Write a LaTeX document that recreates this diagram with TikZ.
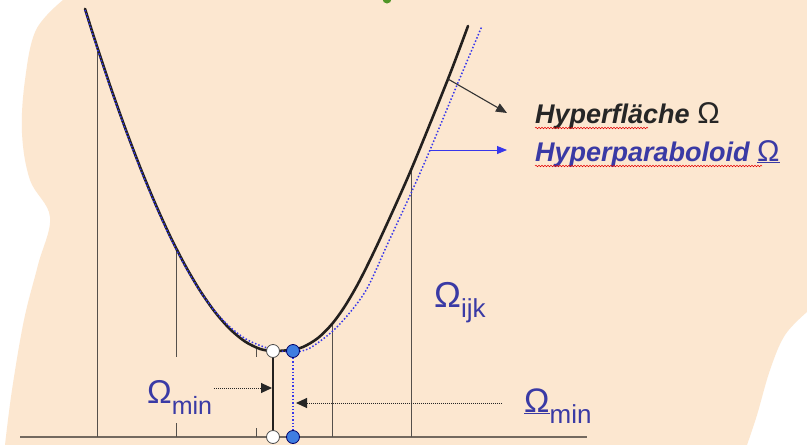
\documentclass[tikz,border=0pt]{standalone}
\usepackage{fontspec}
\setmainfont{Liberation Sans}
\usetikzlibrary{arrows.meta,decorations.pathmorphing}
\definecolor{bgpeach}{RGB}{252,231,208}
\definecolor{txtblue}{RGB}{58,58,165}
\definecolor{lineblue}{RGB}{55,55,235}
\definecolor{dotblue}{RGB}{63,125,225}
\definecolor{vlinec}{RGB}{85,80,75}
\definecolor{groundc}{RGB}{115,105,95}
\definecolor{curvec}{RGB}{35,32,30}
\definecolor{greendot}{RGB}{80,150,40}
\begin{document}
\begin{tikzpicture}[x=1pt,y=-1pt,
  vl/.style={draw=vlinec, line width=0.9pt},
  curve/.style={draw=curvec, line width=2.6pt, line cap=round},
  bcurve/.style={draw=lineblue, line width=1.5pt, dotted},
  wcirc/.style={circle, draw=black!70, fill=white, minimum size=13pt, inner sep=0pt, line width=0.8pt},
  bcirc/.style={circle, draw=blue!40!black, fill=dotblue, minimum size=13pt, inner sep=0pt, line width=0.8pt},
  dotarr/.style={draw=black!85, densely dotted, line width=1pt, -{Triangle[length=11pt,width=10pt]}},
  bigO/.style={text=txtblue, inner sep=0pt, anchor=base west},
  legend/.style={inner sep=0pt, anchor=base west},
  squig/.style={draw=red!90!black, line width=0.5pt, decorate, decoration={snake, amplitude=0.8pt, segment length=3pt}}
]
\useasboundingbox (0,0) rectangle (807,445);
\fill[white] (0,0) rectangle (807,445);
% background shape
\fill[bgpeach] plot[smooth, tension=0.6] coordinates {(63,0) (36,30) (25,80) (22,133) (30,180) (50,217) (38,265) (24,320) (12,390) (5,445)}
  -- (747,445) -- plot[smooth, tension=0.6] coordinates {(747,445) (757,415) (770,370) (785,335) (807,312)}
  -- (807,0) -- cycle;
\fill[greendot] (387,-1) circle (4.5);

% ground line
\coordinate (g0) at (20,437);
\coordinate (g1) at (587,437);
\draw[draw=groundc, line width=2pt] (g0) -- (g1);

% vertical lines
\coordinate (v1t) at (97,46);   \coordinate (v1b) at (97,437);
\coordinate (v2t) at (176,247); \coordinate (v2m) at (176,357);
\coordinate (v2n) at (176,423); \coordinate (v2b) at (176,437);
\coordinate (v3t) at (256,346); \coordinate (v3m) at (256,357);
\coordinate (v3n) at (256,428); \coordinate (v3b) at (256,437);
\coordinate (v4t) at (332,324); \coordinate (v4b) at (332,437);
\coordinate (v5t) at (411,170); \coordinate (v5b) at (411,437);
\draw[vl] (v1t) -- (v1b);
\draw[vl] (v2t) -- (v2m);
\draw[vl] (v2n) -- (v2b);
\draw[vl] (v3t) -- (v3m);
\draw[vl] (v3n) -- (v3b);
\draw[vl] (v4t) -- (v4b);
\draw[vl] (v5t) -- (v5b);

% curves
\draw[curve] plot[smooth, tension=0.5] coordinates {(85,8.8) (95,40.3) (110,85.4) (125,127.6) (140,166.9) (155,203) (170,235.9) (185,265.1) (200,290.6) (215,312) (230,329.1) (245,341.5) (260,348.9) (273,351) (290,350) (303,347) (318,338) (332,324) (345,306) (360,280) (380,239) (411,170) (448,79) (468,26)};
\draw[bcurve] plot[smooth, tension=0.5] coordinates {(85,10) (95,41.5) (110,86.5) (125,128.5) (140,168) (155,204) (170,237) (185,266) (200,291) (215,311.5) (230,327) (245,338.5) (260,345.5) (275,350) (293,352) (310,348) (337,327) (365,292) (388,243) (412,191) (430,150) (457,85) (482,26)};

% arrows to legend
\coordinate (hfA) at (448,79);
\coordinate (hfT) at (507,113);
\coordinate (hpA) at (430,150);
\coordinate (hpT) at (507,150);
\draw[draw=black!80, line width=1.1pt, -{Triangle[length=11pt,width=9pt]}] (hfA) -- (hfT);
\draw[draw=lineblue, line width=0.9pt, -{Triangle[length=10pt,width=8pt]}] (hpA) -- (hpT);

% legend texts
\node[legend, text=black!85] (hf) at (535,123) {\fontsize{27}{30}\selectfont{\bfseries\itshape Hyperfläche} {\fontsize{30}{30}\selectfont Ω}};
\node[legend, text=txtblue] (hp) at (535,161) {\fontsize{27}{30}\selectfont{\bfseries\itshape Hyperparaboloid} {\fontsize{30}{30}\selectfont\underline{Ω}}};
\coordinate (sq1a) at (535,128); \coordinate (sq1b) at (648,128);
\coordinate (sq2a) at (535,166); \coordinate (sq2b) at (762,166);
\draw[squig] (sq1a) -- (sq1b);
\draw[squig] (sq2a) -- (sq2b);

% Omega labels
\node[bigO] (oijk) at (434,307) {\fontsize{36}{36}\selectfont Ω\raisebox{-10pt}{\fontsize{26}{26}\selectfont ijk}};
\node[bigO] (ominL) at (147,403) {\fontsize{33}{33}\selectfont Ω\raisebox{-11pt}{\fontsize{25}{25}\selectfont min}};
\node[bigO] (ominR) at (524,412) {\fontsize{34}{34}\selectfont \underline{Ω}\raisebox{-11pt}{\fontsize{26}{26}\selectfont min}};

% minimum markers
\node[wcirc] (wtop) at (273,351) {};
\node[bcirc] (btop) at (293,351) {};
\node[wcirc] (wbot) at (273,437) {};
\node[bcirc] (bbot) at (293,437) {};
\draw[draw=curvec, line width=1.6pt] (wtop) -- (wbot);
\draw[draw=lineblue, dotted, line width=1.4pt] (btop) -- (bbot);

% dotted arrows
\coordinate (daL) at (214,388);
\coordinate (daLt) at (272,388);
\coordinate (daR) at (502,403);
\coordinate (daRt) at (296,403);
\draw[dotarr] (daL) -- (daLt);
\draw[dotarr] (daR) -- (daRt);
\end{tikzpicture}
\end{document}
